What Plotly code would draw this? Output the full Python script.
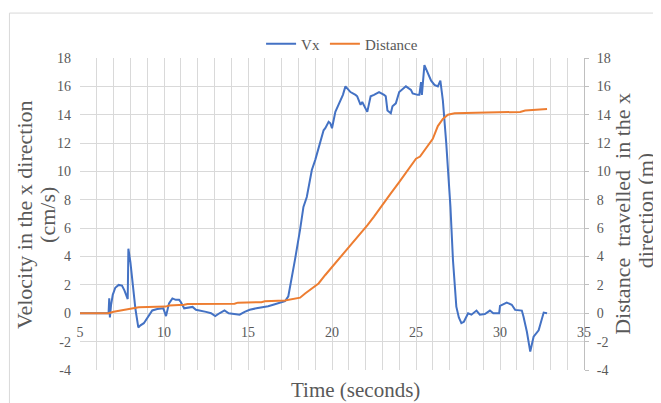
import plotly.graph_objects as go

# ---- data ----
vx_time = [5.0, 6.70, 6.74, 6.78, 6.85, 6.95, 7.1, 7.3, 7.5, 7.65, 7.84, 7.88, 8.0, 8.15, 8.3, 8.47,
           8.6, 8.8, 9.0, 9.3, 9.6, 9.96, 10.12, 10.3, 10.5, 10.7, 10.9, 11.0, 11.2, 11.5, 11.7, 11.9,
           12.2, 12.5, 12.8, 13.05, 13.3, 13.6, 13.85, 14.1, 14.5, 14.8, 15.1, 15.5, 15.8, 16.2, 16.5,
           16.8, 17.2, 17.4, 17.6, 17.8, 18.1, 18.3, 18.5, 18.8, 19.0, 19.3, 19.5, 19.6, 19.8, 19.9,
           20.0, 20.2, 20.5, 20.65, 20.8, 21.0, 21.1, 21.4, 21.5, 21.7, 21.8, 22.1, 22.3, 22.5, 22.8,
           23.1, 23.2, 23.3, 23.5, 23.6, 23.8, 24.0, 24.4, 24.7, 24.8, 25.1, 25.2, 25.3, 25.35, 25.5,
           25.7, 25.9, 26.1, 26.3, 26.45, 26.6, 26.8, 26.95, 27.05, 27.2, 27.4, 27.55, 27.7, 27.85,
           28.1, 28.3, 28.6, 28.8, 29.1, 29.4, 29.6, 29.95, 30.0, 30.4, 30.7, 30.9, 31.3, 31.4, 31.6,
           31.8, 32.0, 32.3, 32.5, 32.6, 32.8]
vx_value = [0.0, 0.0, 1.05, -0.3, 0.6, 1.3, 1.8, 2.0, 1.95, 1.6, 1.0, 4.55, 3.6, 2.0, 0.3, -1.0,
            -0.85, -0.7, -0.35, 0.2, 0.3, 0.35, -0.2, 0.7, 1.05, 0.95, 0.95, 0.8, 0.35, 0.4, 0.45, 0.25,
            0.2, 0.1, 0.0, -0.2, 0.0, 0.2, 0.0, -0.05, -0.1, 0.1, 0.25, 0.35, 0.4, 0.5, 0.6,
            0.7, 0.85, 1.2, 2.4, 3.8, 5.9, 7.5, 8.2, 10.1, 10.8, 12.0, 12.9, 13.05, 13.5, 13.4,
            13.05, 14.2, 15.0, 15.4, 16.0, 15.7, 15.6, 15.4, 15.3, 14.7, 14.9, 14.2, 15.3, 15.4, 15.6,
            15.4, 15.3, 14.3, 14.1, 14.6, 14.8, 15.6, 16.0, 15.75, 15.5, 15.4, 15.4, 16.3, 15.4, 17.5,
            16.9, 16.4, 16.1, 16.0, 16.4, 15.0, 12.0, 9.5, 7.5, 3.76, 0.47, -0.3, -0.7, -0.6,
            0.0, -0.1, 0.19, -0.1, -0.05, 0.19, 0.0, 0.0, 0.52, 0.75, 0.6, 0.24, 0.19, -0.24, -1.3,
            -2.7, -1.65, -1.2, -0.24, 0.05, 0.0]

dist_time = [5.0, 6.7, 7.0, 7.5, 8.0, 8.5, 10.1, 10.3, 11.2, 11.4, 14.2, 14.4, 15.8, 16.0, 17.2,
             17.6, 18.1, 18.4, 18.7, 19.2, 19.6, 20.0, 20.4, 20.7, 21.2, 21.7, 22.1, 22.5, 23.0,
             23.5, 24.0, 24.3, 24.7, 25.0, 25.24, 25.5, 26.0, 26.3, 26.6, 26.9, 27.3, 29.2, 31.2,
             31.5, 32.0, 32.8]
dist_value = [0.0, 0.0, 0.1, 0.22, 0.3, 0.42, 0.47, 0.55, 0.6, 0.66, 0.67, 0.75, 0.78, 0.85, 0.9,
              1.0, 1.1, 1.4, 1.65, 2.1, 2.7, 3.25, 3.88, 4.25, 4.95, 5.64, 6.2, 6.82, 7.6,
              8.46, 9.25, 9.76, 10.4, 10.9, 11.05, 11.5, 12.3, 13.2, 13.7, 14.0, 14.1, 14.15, 14.2,
              14.3, 14.35, 14.4]

x_ticks = [5, 10, 15, 20, 25, 30, 35]
y_ticks = [-4, -2, 0, 2, 4, 6, 8, 10, 12, 14, 16, 18]
y_ticktext = [str(v) for v in y_ticks]

FONT = "Liberation Serif"
GRAY = "#595959"
GRID = "#D9D9D9"
TICKFONT = dict(family=FONT, size=14, color=GRAY)

fig = go.Figure()
fig.add_trace(go.Scatter(x=vx_time, y=vx_value, mode="lines", name="Vx",
                         line=dict(color="#4472C4", width=2)))
fig.add_trace(go.Scatter(x=dist_time, y=dist_value, mode="lines", name="Distance",
                         line=dict(color="#ED7D31", width=2), yaxis="y2"))

fig.update_layout(
    width=653, height=395,
    margin=dict(l=72, r=77, t=50, b=33),
    paper_bgcolor="white", plot_bgcolor="white",
    font=dict(family=FONT, color=GRAY, size=14),
    showlegend=True,
    legend=dict(orientation="h", x=0.52, xanchor="center", y=1.045, yanchor="middle",
                font=dict(family=FONT, size=15, color=GRAY), itemwidth=30,
                bgcolor="rgba(0,0,0,0)"),
    xaxis=dict(range=[5, 35], tickvals=x_ticks, showgrid=True, gridcolor=GRID, gridwidth=1,
               minor=dict(dtick=1, showgrid=True, gridcolor=GRID, gridwidth=1, ticks=""),
               zeroline=False, showline=False, anchor="free", position=4 / 22,
               ticks="", ticklabelstandoff=9, tickfont=TICKFONT),
    yaxis=dict(range=[-4, 18], tickvals=y_ticks, ticktext=y_ticktext, showgrid=True,
               gridcolor=GRID, gridwidth=1,
               zeroline=False, showline=False, ticks="", ticklabelstandoff=8,
               tickfont=TICKFONT),
    yaxis2=dict(range=[-4, 18], tickvals=y_ticks, ticktext=y_ticktext, overlaying="y",
                side="right", showgrid=False,
                zeroline=False, showline=True, linecolor="#BFBFBF", linewidth=1,
                ticks="outside", ticklen=4, tickcolor="#BFBFBF", ticklabelstandoff=5,
                tickfont=TICKFONT),
)

# chart border
fig.add_shape(type="rect", xref="paper", yref="paper", x0=-0.140, x1=1.1468, y0=-0.14, y1=1.144,
              line=dict(color="#D9D9D9", width=1), fillcolor="rgba(0,0,0,0)", layer="below")

ann = dict(xref="paper", yref="paper", showarrow=False, font=dict(family=FONT, size=22, color=GRAY))
fig.add_annotation(text="Time (seconds)", x=0.547, y=-0.064, xanchor="center", yanchor="middle",
                   **{**ann, "font": dict(family=FONT, size=21, color=GRAY)})
fig.add_annotation(text="Velocity in the x direction", x=-0.109, y=0.497, textangle=-90,
                   xanchor="center", yanchor="middle", **ann)
fig.add_annotation(text="(cm/s)", x=-0.0635, y=0.497, textangle=-90,
                   xanchor="center", yanchor="middle", **ann)
fig.add_annotation(text="Distance  travelled  in the x", x=1.075, y=0.50, textangle=-90,
                   xanchor="center", yanchor="middle", **ann)
fig.add_annotation(text="direction (m)", x=1.122, y=0.51, textangle=-90,
                   xanchor="center", yanchor="middle", **ann)

fig.write_html("out.html")
